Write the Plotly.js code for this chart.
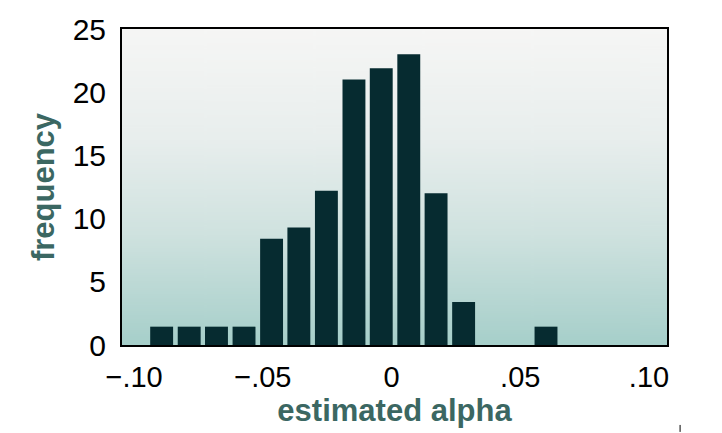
<!DOCTYPE html>
<html>
<head>
<meta charset="utf-8">
<script src="https://cdn.plot.ly/plotly-3.0.1.min.js"></script>
<style>html,body{margin:0;padding:0;background:#fff;}#chart{width:722px;height:433px;}</style>
</head>
<body>
<div id="chart"></div>
<script>
// Data
const binCenters = [-0.0893, -0.0786, -0.0680, -0.0573, -0.0466, -0.0360, -0.0253, -0.0146, -0.0040, 0.0067, 0.0173, 0.0280, 0.0387, 0.0493, 0.0600];
const frequency  = [1.45, 1.45, 1.45, 1.45, 8.4, 9.3, 12.2, 21.0, 21.9, 23.0, 12.0, 3.4, 0, 0, 1.45];
const xTickVals  = [-0.10, -0.05, 0, 0.05, 0.10];
const xTickText  = ['\u2212.10', '\u2212.05', '0', '.05', '.10'];
const yTickVals  = [0, 5, 10, 15, 20, 25];

// background gradient image
const cv = document.createElement('canvas');
cv.width = 10; cv.height = 300;
const ctx = cv.getContext('2d');
const g = ctx.createLinearGradient(0, 0, 0, 300);
g.addColorStop(0, '#f6f6f5');
g.addColorStop(0.35, '#e8eeed');
g.addColorStop(0.65, '#cfe2df');
g.addColorStop(1, '#a6cfca');
ctx.fillStyle = g;
ctx.fillRect(0, 0, 10, 300);
const bgURL = cv.toDataURL('image/png');

const trace = {
  type: 'bar',
  x: binCenters,
  y: frequency,
  width: 0.0089,
  marker: {color: '#062b30', line: {width: 0}},
  hoverinfo: 'x+y'
};

const layout = {
  width: 722, height: 433,
  margin: {l: 122, r: 55, t: 29, b: 88},
  paper_bgcolor: '#ffffff',
  plot_bgcolor: 'rgba(0,0,0,0)',
  showlegend: false,
  font: {family: 'Liberation Sans, Arial, sans-serif', color: '#000'},
  xaxis: {
    range: [-0.1047, 0.1070],
    tickvals: xTickVals, ticktext: xTickText,
    tickfont: {size: 29, color: '#000'},
    showgrid: false, zeroline: false,
    showline: true, mirror: true, linecolor: '#000', linewidth: 2,
    ticks: '', ticklabelstandoff: 5,
    title: {text: 'estimated alpha', font: {size: 31, color: '#3b6762', family: 'Liberation Sans, Arial, sans-serif', weight: 'bold'}, standoff: 6}
  },
  yaxis: {
    range: [0, 25],
    tickvals: yTickVals,
    tickfont: {size: 30, color: '#000'},
    showgrid: false, zeroline: false,
    showline: true, mirror: true, linecolor: '#000', linewidth: 2,
    ticks: '', ticklabelstandoff: 8,
    title: {text: 'frequency', font: {size: 31, color: '#3b6762', family: 'Liberation Sans, Arial, sans-serif', weight: 'bold'}, standoff: 9}
  },
  images: [{
    source: bgURL, xref: 'paper', yref: 'paper',
    x: 0, y: 1, sizex: 1, sizey: 1,
    sizing: 'stretch', xanchor: 'left', yanchor: 'top', layer: 'below'
  }],
  shapes: [{
    type: 'line', xref: 'paper', yref: 'paper',
    x0: 1.024, x1: 1.024, y0: -0.253, y1: -0.275,
    line: {color: '#000', width: 1}
  }]
};

Plotly.newPlot('chart', [trace], layout, {displayModeBar: false, staticPlot: true});
</script>
</body>
</html>
